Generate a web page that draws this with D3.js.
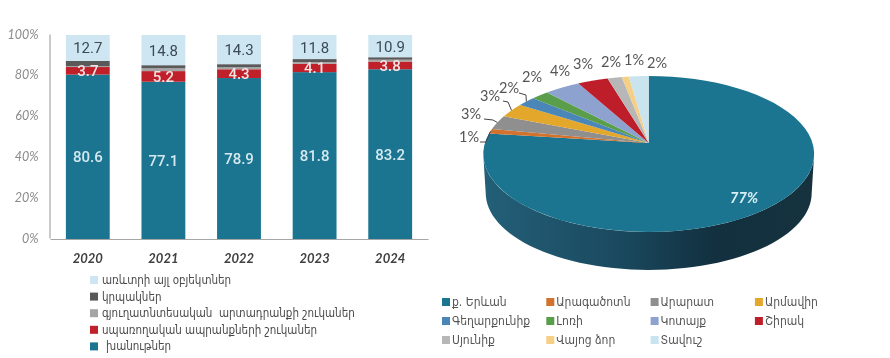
<!DOCTYPE html>
<html>
<head>
<meta charset="utf-8">
<script src="https://cdn.jsdelivr.net/npm/d3@7"></script>
<style>
body { margin: 0; background: #fff; }
svg { display: block; filter: blur(0.4px); }
.bar-label { font-family: Roboto, sans-serif; font-size: 15px; text-anchor: middle; }
.legend-text { font-family: "DejaVu Sans Condensed", "DejaVu Sans", sans-serif; fill: #4a4a4a; font-size: 11.5px; }
.pie-legend-text { font-size: 12px; fill: #555; }
</style>
</head>
<body>
<div id="container"></div>
<script>
// bar chart data
var years = ["2020", "2021", "2022", "2023", "2024"];
var shops = [80.6, 77.1, 78.9, 81.8, 83.2];
var consumerMarkets = [3.7, 5.2, 4.3, 4.1, 3.8];
var farmMarkets = [0.4, 1.4, 1.0, 0.8, 0.9];
var kiosks = [2.6, 1.5, 1.5, 1.5, 1.2];
var otherObjects = [12.7, 14.8, 14.3, 11.8, 10.9];
var barLegend = ["առևտրի այլ օբյեկտներ", "կրպակներ", "գյուղատնտեսական  արտադրանքի շուկաներ", "սպառողական ապրանքների շուկաներ", "խանութներ"];
var yTicks = [0, 20, 40, 60, 80, 100];

// pie chart data, labels show these rounded
var regions = ["ք. Երևան", "Արագածոտն", "Արարատ", "Արմավիր", "Գեղարքունիք", "Լոռի", "Կոտայք", "Շիրակ", "Սյունիք", "Վայոց ձոր", "Տավուշ"];
var regionShares = [77, 1, 3, 3, 2, 2, 4, 3.4, 1.6, 0.8, 2.2];

var barColors = ["#1b7590", "#c0202a", "#a5a5a5", "#595959", "#cde6f2"];
var barColorsLegend = ["#cde6f2", "#595959", "#a5a5a5", "#c0202a", "#1b7590"];
var regionColors = ["#1b7590", "#d2722d", "#8f8f8f", "#e3a82b", "#4a86b8", "#5a9e4b", "#8ea2cf", "#bd1e2a", "#b7b7b7", "#f5cf86", "#c9e3ef"];

var svg = d3.select("#container").append("svg").attr("width", 890).attr("height", 358);

function drawBars() {
    var x = d3.scaleBand().domain(years).range([50, 428]).paddingInner(0.42).paddingOuter(0.21);
    var y = d3.scaleLinear().domain([0, 100]).range([239, 35]);

    var rows = years.map(function(yr, i) {
        return { year: yr, shops: shops[i], consumer: consumerMarkets[i], farm: farmMarkets[i], kiosks: kiosks[i], other: otherObjects[i] };
    });
    var keys = ["shops", "consumer", "farm", "kiosks", "other"];
    var stacked = d3.stack().keys(keys)(rows);

    svg.selectAll(".layer")
        .data(stacked)
        .enter().append("g")
        .attr("fill", function(d, i) { return barColors[i]; })
        .selectAll("rect")
        .data(function(d) { return d; })
        .enter().append("rect")
        .attr("x", function(d) { return x(d.data.year); })
        .attr("width", x.bandwidth())
        .attr("y", function(d) { return y(d[1]); })
        .attr("height", function(d) { return y(d[0]) - y(d[1]); });

    // value labels: only three of the five layers carry one
    [[0, "#d6e8ef"], [1, "#f3e3e3"], [4, "#3c4a55"]].forEach(function(item) {
        svg.selectAll(null)
            .data(stacked[item[0]])
            .enter().append("text")
            .attr("class", "bar-label")
            .attr("font-weight", item[0] == 4 ? 400 : 500)
            .attr("fill", item[1])
            .attr("x", function(d) { return x(d.data.year) + x.bandwidth() / 2; })
            .attr("y", function(d) { return (y(d[0]) + y(d[1])) / 2 + 5.5; })
            .text(function(d) { return d.data[keys[item[0]]]; });
    });

    var yAxis = d3.axisLeft(y).tickValues(yTicks).tickSize(0).tickPadding(11).tickFormat(function(d) { return d + "%"; });
    var gy = svg.append("g").attr("transform", "translate(49.5,-1)").call(yAxis);
    gy.select(".domain").attr("stroke", "#a6a6a6").attr("stroke-width", 1.2);
    gy.selectAll("text")
        .attr("font-family", "Lato, sans-serif").attr("font-style", "italic")
        .attr("font-size", 12.5).attr("fill", "#8a8a8a");

    var xAxis = d3.axisBottom(x).tickSize(0).tickPadding(15);
    var gx = svg.append("g").attr("transform", "translate(0,239)").call(xAxis);
    gx.select(".domain").attr("stroke", "#a6a6a6").attr("stroke-width", 1.2);
    gx.selectAll("text")
        .attr("font-family", "Lato, sans-serif").attr("font-style", "italic").attr("font-weight", 700)
        .attr("font-size", 13).attr("fill", "#404040");

    var legend = svg.selectAll(".bar-legend")
        .data(barLegend)
        .enter().append("g")
        .attr("transform", function(d, i) { return "translate(90," + (280 + i * 16.6) + ")"; });
    legend.append("rect")
        .attr("y", -4).attr("width", 8).attr("height", 8)
        .attr("fill", function(d, i) { return barColorsLegend[i]; });
    legend.append("text")
        .attr("class", "legend-text")
        .attr("xml:space", "preserve")
        .attr("x", function(d, i) { return i == 4 ? 16 : 12; })
        .attr("y", 4)
        .text(function(d) { return d; });
}

function drawPie() {
    var cx = 648.7, k = 0.141, rx = 163.8, ry = 76.4;

    // flat disc seen in perspective, so the centre sits above the ellipse middle
    function project(a, r, dy, s) {
        var w = 1 + k * r * Math.cos(a);
        return [cx + rx * s * r * Math.sin(a) / w, 143 + dy - ry * s * r * Math.cos(a) / w];
    }
    function rim(a0, a1, dy, s) {
        return d3.range(0, 61).map(function(i) {
            return project(a0 + (a1 - a0) * i / 60, 1, dy, s);
        });
    }

    var slices = d3.pie().sort(null).value(function(d) { return d; })(regionShares);
    var line = d3.line();

    var grad = svg.append("defs").append("linearGradient")
        .attr("id", "wall").attr("gradientUnits", "userSpaceOnUse")
        .attr("x1", 485).attr("x2", 814).attr("y1", 0).attr("y2", 0);
    [[0, "#235f78"], [0.4, "#1a4a60"], [0.7, "#12303f"], [1, "#16323f"]].forEach(function(st) {
        grad.append("stop").attr("offset", st[0]).attr("stop-color", st[1]);
    });

    var edge = Math.acos(-k);
    var wall = rim(edge, 2 * Math.PI - edge, 0, 1).concat(rim(2 * Math.PI - edge, edge, 39.3, 0.985));
    svg.append("path").attr("d", line(wall) + "Z").attr("fill", "url(#wall)");

    svg.selectAll(".slice")
        .data(slices)
        .enter().append("path")
        .attr("d", function(d) {
            return line([[cx, 143]].concat(rim(d.startAngle, d.endAngle, 0, 1))) + "Z";
        })
        .attr("fill", function(d, i) { return regionColors[i]; });

    // hand placed labels, first one is the big slice
    var labelSpots = [[744, 203], [469, 142], [471, 119], [490, 101], [509, 93], [532, 82], [560, 76], [583, 69], [611, 67], [634, 65], [657, 68]];
    // elbows for the labels that need a leader line
    var elbows = { 1: [[480, 142], [486, 142]], 2: [[484, 119], [493, 120]], 3: [[503, 101], [508, 102]], 4: [[519, 93], [526, 95]] };

    svg.selectAll(".pie-label")
        .data(slices)
        .enter().append("text")
        .attr("x", function(d, i) { return labelSpots[i][0]; })
        .attr("y", function(d, i) { return labelSpots[i][1]; })
        .attr("text-anchor", "middle")
        .attr("font-family", "Lato, sans-serif")
        .attr("font-size", function(d, i) { return i == 0 ? 14.5 : 14.5; })
        .attr("font-style", function(d, i) { return i == 0 ? "italic" : "normal"; })
        .attr("font-weight", function(d, i) { return i == 0 ? 700 : 400; })
        .attr("fill", function(d, i) { return i == 0 ? "#d9eef6" : "#555"; })
        .text(function(d) { return Math.round(d.value) + "%"; });

    Object.keys(elbows).forEach(function(i) {
        var s = slices[i];
        var end = project((s.startAngle + s.endAngle) / 2, 1, 0, 1);
        svg.append("path")
            .attr("d", line(elbows[i].concat([end])))
            .attr("fill", "none").attr("stroke", "#444").attr("stroke-width", 1);
    });

    var legend = svg.selectAll(".pie-legend")
        .data(regions)
        .enter().append("g")
        .attr("transform", function(d, i) {
            return "translate(" + (442 + (i % 4) * 104.3) + "," + (302 + Math.floor(i / 4) * 19) + ")";
        });
    legend.append("rect")
        .attr("y", -4).attr("width", 8).attr("height", 8)
        .attr("fill", function(d, i) { return regionColors[i]; });
    legend.append("text")
        .attr("class", "legend-text pie-legend-text")
        .attr("x", 10)
        .attr("y", 4)
        .text(function(d) { return d; });
}

drawBars();
drawPie();
</script>
</body>
</html>
